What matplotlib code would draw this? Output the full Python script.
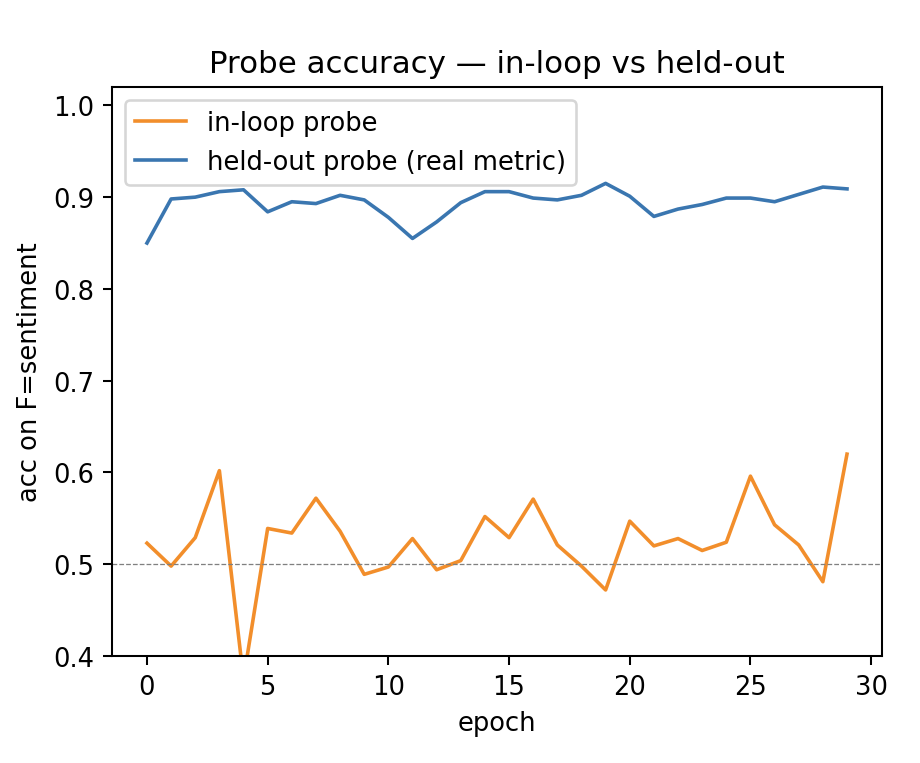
import matplotlib
matplotlib.use("Agg")
import matplotlib.pyplot as plt

# per-epoch probe accuracy
epochs = list(range(30))
in_loop = [0.523, 0.498, 0.529, 0.602, 0.375, 0.539, 0.534, 0.572, 0.536, 0.489,
           0.497, 0.528, 0.494, 0.504, 0.552, 0.529, 0.571, 0.521, 0.498, 0.472,
           0.547, 0.520, 0.528, 0.515, 0.524, 0.596, 0.543, 0.521, 0.481, 0.620]
held_out = [0.850, 0.898, 0.900, 0.906, 0.908, 0.884, 0.895, 0.893, 0.902, 0.897,
            0.878, 0.855, 0.873, 0.894, 0.906, 0.906, 0.899, 0.897, 0.902, 0.915,
            0.901, 0.879, 0.887, 0.892, 0.899, 0.899, 0.895, 0.903, 0.911, 0.909]
chance = 0.5

DPI = 185
fig = plt.figure(figsize=(920 / DPI, 764 / DPI), dpi=DPI)
ax = fig.add_axes([0.1217, 0.140, 0.8370, 0.7448])

ax.plot(epochs, in_loop, color='#f28e2b', lw=1.4, label='in-loop probe')
ax.plot(epochs, held_out, color='#3a76b0', lw=1.4, label='held-out probe (real metric)')
ax.axhline(chance, color='gray', ls='--', lw=0.5)

ax.set_ylim(0.4, 1.02)
ax.set_xlabel('epoch')
ax.set_ylabel('acc on F=sentiment')
ax.set_title('Probe accuracy \u2014 in-loop vs held-out')
ax.legend(loc='upper left')

fig.savefig('out.png', dpi=DPI)
